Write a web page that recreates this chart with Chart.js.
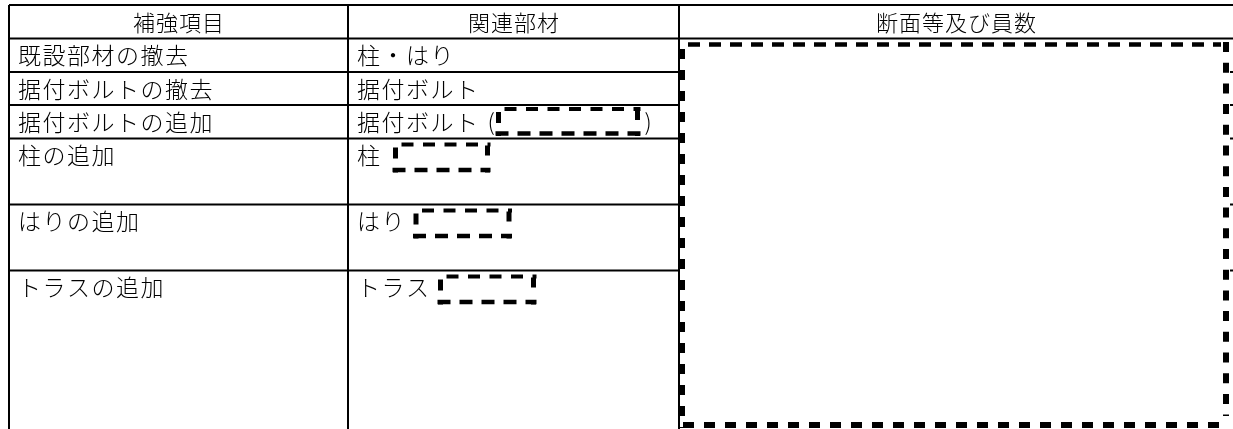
<!DOCTYPE html>
<html>
<head>
<meta charset="utf-8">
<script src="https://cdn.jsdelivr.net/npm/chart.js@4.4.1/dist/chart.umd.min.js"></script>
<style>
  html, body { margin: 0; padding: 0; background: #fff; }
  #wrap { width: 1233px; height: 429px; }
</style>
</head>
<body>
<div id="wrap"><canvas id="tableChart" width="1233" height="429"></canvas></div>
<script>
// table contents
const headers = ['補強項目', '関連部材', '断面等及び員数'];
const items = ['既設部材の撤去', '据付ボルトの撤去', '据付ボルトの追加', '柱の追加', 'はりの追加', 'トラスの追加'];
const members = ['柱・はり', '据付ボルト', '据付ボルト', '柱', 'はり', 'トラス'];
// blank to fill in after the member name: none, in brackets, or plain box
const blanks = ['', '', 'paren', 'box', 'box', 'box'];

// layout (in scale units = px)
const colEdges = [9, 348, 679, 1245];
const rowEdges = [5, 38.5, 72, 105, 138.5, 204.5, 270.5, 445];
const bigBlank = { x1: 679, y1: 42, x2: 1229, y2: 428 };
const FONT = '"Noto Sans CJK JP", "Noto Sans CJK SC", sans-serif';

function dashLine(ctx, x1, y1, x2, y2, width, dash) {
    ctx.save();
    ctx.strokeStyle = '#000';
    ctx.lineWidth = width;
    ctx.setLineDash(dash);
    ctx.beginPath();
    ctx.moveTo(x1, y1);
    ctx.lineTo(x2, y2);
    ctx.stroke();
    ctx.restore();
}

function blankBox(ctx, x, y, w, h) {
    // drawn edge by edge like the scanned form
    dashLine(ctx, x + 9, y + 2, x + w, y + 2, 4, [12, 9.5]);
    dashLine(ctx, x + 3, y + 5, x + 3, y + h, 5, [11, 12]);
    dashLine(ctx, x + w - 3, y + 3, x + w - 3, y + h, 5, [10, 13]);
    dashLine(ctx, x, y + h - 2.5, x + w, y + h - 2.5, 4.5, [13, 9]);
}

const tablePlugin = {
    id: 'tablePlugin',
    afterDraw(chart) {
        const ctx = chart.ctx;
        const sx = chart.scales.x, sy = chart.scales.y;
        const X = v => sx.getPixelForValue(v);
        const Y = v => sy.getPixelForValue(v);

        ctx.save();
        ctx.fillStyle = '#fff';
        ctx.fillRect(0, 0, chart.width, chart.height);

        // grid lines
        ctx.strokeStyle = '#000';
        ctx.lineWidth = 2;
        rowEdges.forEach((r, i) => {
            if (i === rowEdges.length - 1) return;
            ctx.beginPath();
            ctx.moveTo(X(colEdges[0]), Y(r));
            ctx.lineTo(X(colEdges[3]), Y(r));
            ctx.stroke();
        });
        colEdges.forEach(c => {
            ctx.beginPath();
            ctx.moveTo(X(c), Y(rowEdges[0]));
            ctx.lineTo(X(c), Y(rowEdges[rowEdges.length - 1]));
            ctx.stroke();
        });

        // header
        ctx.fillStyle = '#000';
        ctx.textBaseline = 'middle';
        ctx.textAlign = 'center';
        ctx.font = '300 22px ' + FONT;
        ctx.letterSpacing = '1px';
        headers.forEach((h, i) => {
            const cx = (X(colEdges[i]) + X(Math.min(colEdges[i + 1], 1233))) / 2;
            ctx.fillText(h, cx + 0.5, Y(22.5));
        });

        // body rows
        ctx.textAlign = 'left';
        ctx.font = '300 23px ' + FONT;
        ctx.letterSpacing = '1.5px';
        items.forEach((item, i) => {
            const ty = Y(rowEdges[i + 1] + 17);
            ctx.fillText(item, X(colEdges[0] + 9), ty);
            const mx = X(colEdges[1] + 9);
            ctx.fillText(members[i], mx, ty);
            const end = mx + ctx.measureText(members[i]).width;
            const top = rowEdges[i + 1];
            if (blanks[i] === 'paren') {
                ctx.fillText('(', end + 8, ty);
                blankBox(ctx, end + 16, Y(top + 2), 145, 29);
                ctx.fillText(')', end + 165, ty);
            } else if (blanks[i] === 'box') {
                const w = members[i].length === 1 ? 98 : 99;
                blankBox(ctx, end + (members[i].length === 1 ? 11 : 7), Y(top + 4), w, 30);
            }
        });

        // big blank for section / count
        const b = bigBlank;
        ctx.fillStyle = '#fff';
        ctx.fillRect(X(b.x1) + 1, Y(b.y1), X(b.x2) - X(b.x1), Y(b.y2) - Y(b.y1));
        dashLine(ctx, X(688), Y(b.y1 + 2.5), X(b.x2 - 8), Y(b.y1 + 2.5), 4.5, [12, 9]);
        dashLine(ctx, X(b.x1 + 3), Y(49), X(b.x1 + 3), Y(b.y2), 6, [10, 11]);
        dashLine(ctx, X(b.x2 - 3), Y(b.y1), X(b.x2 - 3), Y(b.y2 - 12), 6, [10, 10.7]);
        dashLine(ctx, X(b.x1 + 4), Y(b.y2 - 3), X(b.x2), Y(b.y2 - 3), 6, [11, 10]);
        ctx.restore();
    }
};

new Chart(document.getElementById('tableChart').getContext('2d'), {
    type: 'scatter',
    data: { datasets: [{ data: [], showLine: false }] },
    options: {
        responsive: false,
        animation: false,
        layout: { padding: 0 },
        plugins: { legend: { display: false }, tooltip: { enabled: false } },
        scales: {
            x: { type: 'linear', min: 0, max: 1233, display: false },
            y: { type: 'linear', min: 0, max: 429, reverse: true, display: false }
        }
    },
    plugins: [tablePlugin]
});
</script>
</body>
</html>
